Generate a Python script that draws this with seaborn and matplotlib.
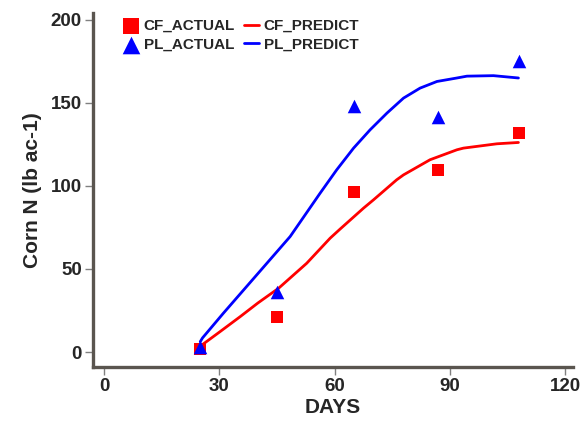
import matplotlib
matplotlib.use("Agg")
import matplotlib.pyplot as plt
import seaborn as sns
import pandas as pd

# Data
days_actual = [25, 45, 65, 87, 108]
cf_actual = [2, 21, 96.5, 109.5, 132]
pl_actual = [3, 36, 148, 141.5, 175]

days_pred_cf = [25, 30, 35.4, 40, 45.4, 52.7, 58.8, 61.4, 67.5, 70.1, 76.1, 77.9,
                84.8, 91.8, 93.5, 102.2, 107.8]
cf_predict = [3.5, 12, 21.3, 29.5, 38.4, 53.4, 68.5, 74, 86.6, 91.6, 103.6, 106.6,
              115.7, 121.7, 122.7, 125.3, 126.1]
days_pred_pl = [25, 25.6, 31, 39.7, 48.4, 56.2, 60.5, 64.9, 69.2, 73.6, 77.9,
                82.2, 86.6, 91.8, 94.4, 101.3, 107.8]
pl_predict = [6.2, 8.5, 23.3, 46.4, 69.5, 95.6, 109.6, 122.7, 133.7, 143.8, 152.8,
              158.8, 162.8, 164.9, 166.0, 166.3, 164.9]

x_ticks = [0, 30, 60, 90, 120]
y_ticks = [0, 50, 100, 150, 200]

sns.set_style("white")
plt.rcParams['font.family'] = ['Liberation Sans', 'DejaVu Sans']
plt.rcParams['font.weight'] = 'bold'

W, H = 583, 424
fig = plt.figure(figsize=(W / 100, H / 100), dpi=100)
ax = fig.add_axes([93 / W, 1 - 367 / H, (573 - 93) / W, (367 - 13) / H])

df_act = pd.DataFrame({"DAYS": days_actual, "CF": cf_actual, "PL": pl_actual})
df_cf = pd.DataFrame({"DAYS": days_pred_cf, "N": cf_predict})
df_pl = pd.DataFrame({"DAYS": days_pred_pl, "N": pl_predict})

sns.lineplot(data=df_cf, x="DAYS", y="N", color="#ff0000", lw=2, ax=ax, label="CF_PREDICT", sort=False)
sns.lineplot(data=df_pl, x="DAYS", y="N", color="#0000ff", lw=2, ax=ax, label="PL_PREDICT", sort=False)
sns.scatterplot(data=df_act, x="DAYS", y="CF", marker="s", color="#ff0000", s=75, linewidth=0, ax=ax, label="CF_ACTUAL", zorder=3)
sns.scatterplot(data=df_act, x="DAYS", y="PL", marker="^", color="#0000ff", s=95, linewidth=0, ax=ax, label="PL_ACTUAL", zorder=4)

ax.set_xlim(-2.9, 122)
ax.set_ylim(-9, 204)
ax.set_xticks(x_ticks)
ax.set_yticks(y_ticks)
ax.set_xticklabels([str(t) for t in x_ticks], fontsize=13.5, fontweight='bold')
ax.set_yticklabels([str(t) for t in y_ticks], fontsize=13.5, fontweight='bold')
ax.tick_params(axis='both', direction='out', length=6, width=1, color='#808080',
               bottom=True, left=True, pad=2)

for side in ['top', 'right']:
    ax.spines[side].set_visible(False)
for side in ['left', 'bottom']:
    ax.spines[side].set_color('#5a554f')
    ax.spines[side].set_linewidth(2.4)

ax.set_xlabel("DAYS", fontsize=15, fontweight='bold', labelpad=2)
ax.set_ylabel("Corn N (lb ac-1)", fontsize=15, fontweight='bold', labelpad=6)

h, l = ax.get_legend_handles_labels()
order = ["CF_ACTUAL", "PL_ACTUAL", "CF_PREDICT", "PL_PREDICT"]
hh = [h[l.index(o)] for o in order]
leg = ax.legend(hh, order, ncol=2, loc='upper left', bbox_to_anchor=(0.04, 1.015),
                frameon=False, fontsize=11, handlelength=1.0, handletextpad=0.3,
                columnspacing=0.6, labelspacing=0.3, borderpad=0.25, markerscale=1.3)
for t in leg.get_texts():
    t.set_fontweight('bold')

fig.savefig("out.png", dpi=100)
